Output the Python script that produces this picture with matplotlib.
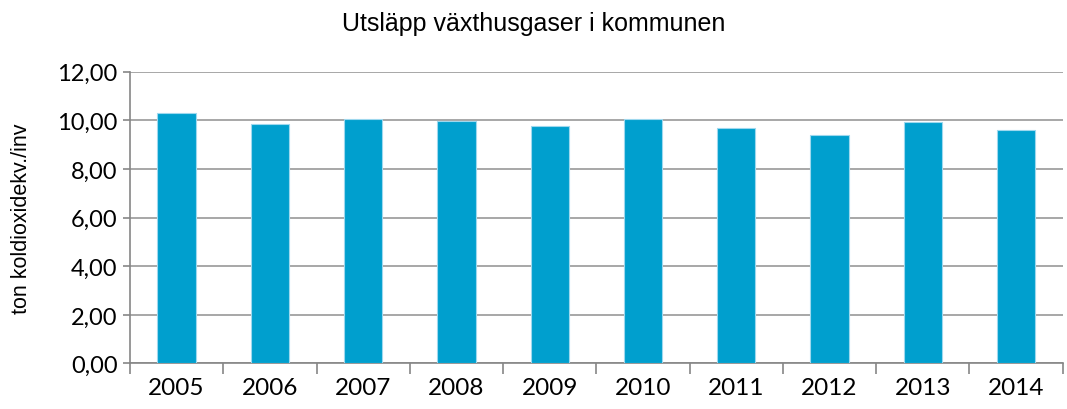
import matplotlib
matplotlib.use("Agg")
import matplotlib.pyplot as plt
import numpy as np

years = ["2005", "2006", "2007", "2008", "2009", "2010", "2011", "2012", "2013", "2014"]
values = [10.32, 9.83, 10.04, 9.99, 9.78, 10.07, 9.67, 9.41, 9.93, 9.59]
yticks = [0, 2, 4, 6, 8, 10, 12]
ytick_labels = ["0,00", "2,00", "4,00", "6,00", "8,00", "10,00", "12,00"]

fig = plt.figure(figsize=(10.67, 4.10), dpi=100)
ax = fig.add_axes([0.1218, 0.111, 0.8742, 0.7117])

x = np.arange(len(years))
ax.bar(x, values, width=0.41, color="#009FCE", edgecolor="#9ED8EE", linewidth=0.8, zorder=3)

ax.set_xlim(-0.5, len(years) - 0.5)
ax.set_ylim(0, 12)
ax.set_yticks(yticks)
ax.set_yticklabels(ytick_labels, fontsize=17, family="Lato")
ax.set_xticks(x)
ax.set_xticklabels(years, fontsize=17.5, family="Lato")
ax.set_xticks(np.arange(-0.5, len(years)), minor=True)
ax.tick_params(axis="x", which="major", length=0, pad=10)
ax.tick_params(axis="x", which="minor", length=8, color="#868686", width=1.2)
ax.tick_params(axis="y", length=5, color="#868686", width=1.2, pad=4)

ax.grid(axis="y", color="#A0A0A0", linewidth=1.3, zorder=0)
for s in ["top", "right"]:
    ax.spines[s].set_visible(False)
for s in ["left", "bottom"]:
    ax.spines[s].set_color("#868686")
    ax.spines[s].set_linewidth(1.2)

ax.set_ylabel("ton koldioxidekv./inv", fontsize=15.5, family="Liberation Sans", labelpad=18)
fig.suptitle("Utsläpp växthusgaser i kommunen", fontsize=18, family="Liberation Sans", y=0.97)

fig.savefig("out.png", dpi=100)
